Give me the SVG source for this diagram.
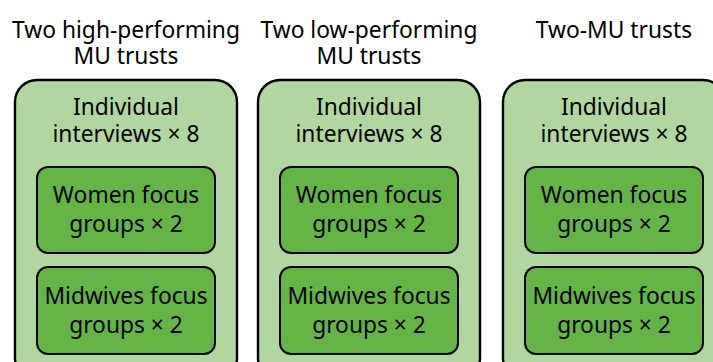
<svg xmlns="http://www.w3.org/2000/svg" width="713" height="362" viewBox="0 0 713 362">
<style>
text{font-family:"Noto Sans","Open Sans",sans-serif;font-size:22.8px;fill:#000;text-anchor:middle}
.outer{fill:#b1d69f;stroke:#000;stroke-width:2.4}
.inner{fill:#64b446;stroke:#000;stroke-width:2}
</style>
<rect width="713" height="362" fill="#fff"/>
<g id="trust-high">
<text x="126" y="38">Two high-performing</text>
<text x="126" y="64">MU trusts</text>
<rect class="outer" x="15" y="80" width="222" height="300" rx="22"/>
<text x="126" y="115">Individual</text>
<text x="126" y="142">interviews × 8</text>
<g id="high-women"><rect class="inner" x="37" y="167" width="178" height="86" rx="11"/>
<text x="126" y="203">Women focus</text><text x="126" y="232">groups × 2</text></g>
<g id="high-midwives"><rect class="inner" x="37" y="267" width="178" height="87" rx="11"/>
<text x="126" y="304">Midwives focus</text><text x="126" y="333">groups × 2</text></g>
</g>
<g id="trust-low">
<text x="369" y="38">Two low-performing</text>
<text x="369" y="64">MU trusts</text>
<rect class="outer" x="258" y="80" width="222" height="300" rx="22"/>
<text x="369" y="115">Individual</text>
<text x="369" y="142">interviews × 8</text>
<g id="low-women"><rect class="inner" x="280" y="167" width="178" height="86" rx="11"/>
<text x="369" y="203">Women focus</text><text x="369" y="232">groups × 2</text></g>
<g id="low-midwives"><rect class="inner" x="280" y="267" width="178" height="87" rx="11"/>
<text x="369" y="304">Midwives focus</text><text x="369" y="333">groups × 2</text></g>
</g>
<g id="trust-two">
<text x="614" y="38">Two-MU trusts</text>
<rect class="outer" x="503" y="80" width="222" height="300" rx="22"/>
<text x="614" y="115">Individual</text>
<text x="614" y="142">interviews × 8</text>
<g id="two-women"><rect class="inner" x="525" y="167" width="178" height="86" rx="11"/>
<text x="614" y="203">Women focus</text><text x="614" y="232">groups × 2</text></g>
<g id="two-midwives"><rect class="inner" x="525" y="267" width="178" height="87" rx="11"/>
<text x="614" y="304">Midwives focus</text><text x="614" y="333">groups × 2</text></g>
</g>
<g id="connectors"/>
</svg>
